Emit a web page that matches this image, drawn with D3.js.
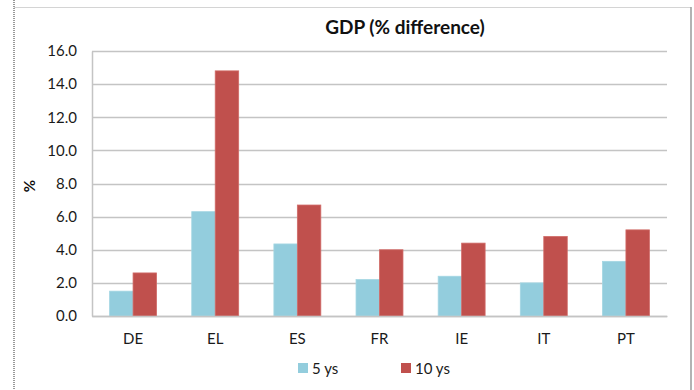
<!DOCTYPE html>
<html>
<head>
<meta charset="utf-8">
<script src="https://cdn.jsdelivr.net/npm/d3@7"></script>
<style>
  html, body { margin: 0; padding: 0; background: #fff; }
  svg { display: block; font-family: Lato, "Liberation Sans", sans-serif; }
</style>
</head>
<body>
<svg id="chart" width="694" height="390"></svg>
<script>
const categories = ["DE", "EL", "ES", "FR", "IE", "IT", "PT"];
const seriesNames = ["5 ys", "10 ys"];
const fiveYears = [1.5, 6.3, 4.35, 2.2, 2.4, 2.0, 3.3];
const tenYears = [2.6, 14.8, 6.7, 4.0, 4.4, 4.8, 5.2];
const yTicks = [0, 2, 4, 6, 8, 10, 12, 14, 16];
const colors = ["#93cddd", "#c0504d"];

const values = [fiveYears, tenYears];

const svg = d3.select("#chart");
const plot = { left: 92, right: 667, top: 51, bottom: 316 };

// frame round the chart
svg.append("line").attr("x1", 14).attr("x2", 14).attr("y1", 0).attr("y2", 390)
  .attr("stroke", "#333").attr("stroke-width", 1).attr("stroke-dasharray", "1,1");
svg.append("line").attr("x1", 14).attr("x2", 691).attr("y1", 7.5).attr("y2", 7.5)
  .attr("stroke", "#d4d4d4");
svg.append("line").attr("x1", 691).attr("x2", 691).attr("y1", 7).attr("y2", 390)
  .attr("stroke", "#9a9a9a").attr("stroke-width", 1.5);

const x0 = d3.scaleBand().domain(categories).range([plot.left, plot.right]);
const x1 = d3.scaleBand().domain(seriesNames).range([0, x0.bandwidth()])
  .paddingInner(0).paddingOuter(0.75);
const y = d3.scaleLinear().domain([0, 16]).range([plot.bottom, plot.top]);

// gridlines
svg.append("g").selectAll("line").data(yTicks).join("line")
  .attr("x1", plot.left).attr("x2", plot.right)
  .attr("y1", d => Math.round(y(d)) + 0.5).attr("y2", d => Math.round(y(d)) + 0.5)
  .attr("stroke", "#c4c4c4").attr("stroke-width", 1.5);

// y axis
const yAxis = svg.append("g").attr("transform", `translate(${plot.left},0)`)
  .call(d3.axisLeft(y).tickValues(yTicks).tickFormat(d3.format(".1f")).tickSize(0).tickPadding(15));
yAxis.select(".domain").attr("stroke", "#c4c4c4").attr("stroke-width", 1.5);
yAxis.selectAll("text").attr("font-size", 15).attr("fill", "#1a1a1a").attr("font-family", "Lato");

// bars
const groups = svg.append("g").selectAll("g").data(categories).join("g")
  .attr("transform", d => `translate(${x0(d)},0)`);
groups.selectAll("rect")
  .data((c, i) => seriesNames.map((s, k) => ({ s, k, v: values[k][i] })))
  .join("rect")
  .attr("x", d => x1(d.s))
  .attr("width", x1.bandwidth())
  .attr("y", d => y(d.v))
  .attr("height", d => y(0) - y(d.v))
  .attr("fill", d => colors[d.k])
  .attr("stroke", d => d.k ? "#d06a67" : "#a4d6e3")
  .attr("stroke-width", 0.8);

// x axis
const xAxis = svg.append("g").attr("transform", `translate(0,${plot.bottom})`)
  .call(d3.axisBottom(x0).tickSize(0).tickPadding(17));
xAxis.select(".domain").attr("stroke", "#c4c4c4").attr("stroke-width", 1.5);
xAxis.selectAll("text").attr("font-size", 15).attr("fill", "#1a1a1a").attr("font-family", "Lato");

// title
svg.append("text").attr("x", 405).attr("y", 34).attr("text-anchor", "middle")
  .attr("font-size", 19).attr("font-weight", "bold").attr("fill", "#111")
  .text("GDP (% difference)");

// y label
svg.append("text").attr("transform", "translate(35,186) rotate(-90)")
  .attr("text-anchor", "middle").attr("font-size", 15).attr("font-weight", "bold")
  .attr("fill", "#111").text("%");

// legend
const legendX = [298, 401];
const legend = svg.append("g").selectAll("g").data(seriesNames).join("g")
  .attr("transform", (d, i) => `translate(${legendX[i]},363)`);
legend.append("rect").attr("width", 10).attr("height", 10).attr("fill", (d, i) => colors[i]);
legend.append("text").attr("x", 14).attr("y", 10.5).attr("font-size", 15)
  .attr("fill", "#1a1a1a").text(d => d);
</script>
</body>
</html>
